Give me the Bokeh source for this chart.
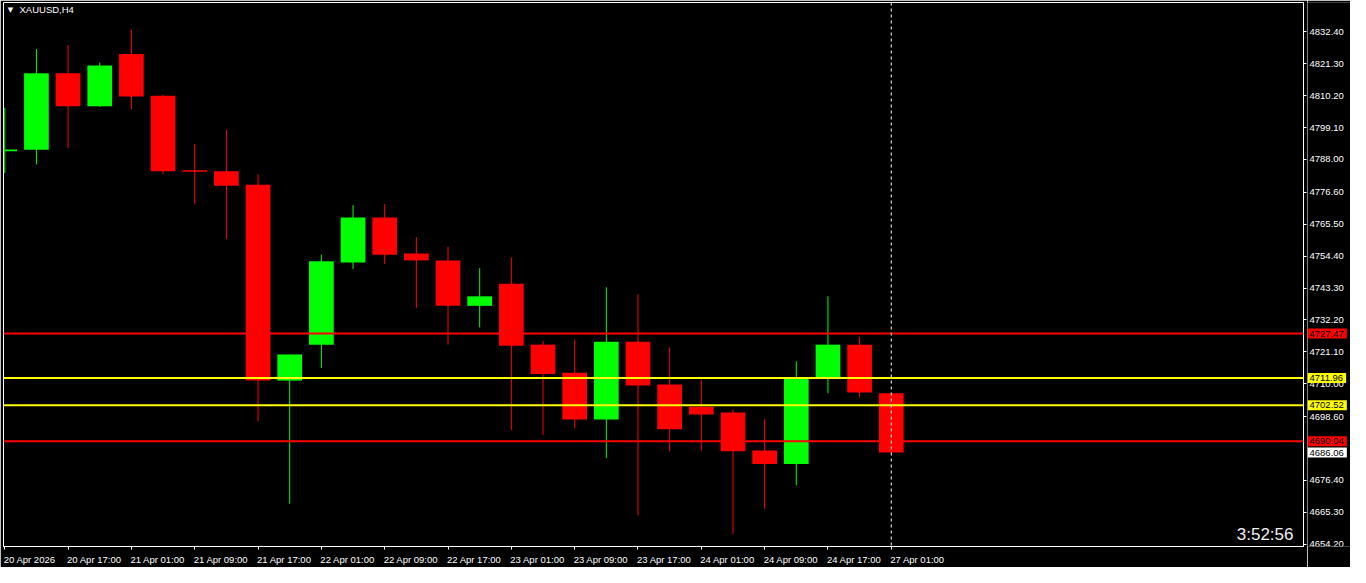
import numpy as np
from bokeh.plotting import figure
from bokeh.layouts import row
from bokeh.models import (ColumnDataSource, Range1d, LinearAxis, FixedTicker,
                          CustomJSTickFormatter, Span, Label, LabelSet)
from bokeh.core.properties import value
from bokeh.embed import file_html
from bokeh.resources import INLINE

# ---------------- data ----------------
symbol = "XAUUSD,H4"
timer_text = "3:52:56"

times = ["20 Apr 09:00", "20 Apr 13:00", "20 Apr 17:00", "20 Apr 21:00",
         "21 Apr 01:00", "21 Apr 05:00", "21 Apr 09:00", "21 Apr 13:00", "21 Apr 17:00", "21 Apr 21:00",
         "22 Apr 01:00", "22 Apr 05:00", "22 Apr 09:00", "22 Apr 13:00", "22 Apr 17:00", "22 Apr 21:00",
         "23 Apr 01:00", "23 Apr 05:00", "23 Apr 09:00", "23 Apr 13:00", "23 Apr 17:00", "23 Apr 21:00",
         "24 Apr 01:00", "24 Apr 05:00", "24 Apr 09:00", "24 Apr 13:00", "24 Apr 17:00", "24 Apr 21:00",
         "27 Apr 01:00"]

opens = [4790.9, 4791.4, 4818.0, 4806.5, 4824.7, 4810.2, 4784.3, 4783.9, 4779.2, 4711.1,
         4723.6, 4752.2, 4767.8, 4755.3, 4752.9, 4737.1, 4744.8, 4723.6, 4713.8, 4697.6,
         4724.6, 4709.7, 4702.0, 4700.0, 4686.8, 4682.1, 4711.8, 4723.6, 4706.7]
highs = [4805.9, 4826.4, 4827.8, 4821.7, 4833.2, 4810.6, 4793.4, 4798.4, 4782.9, 4720.2,
         4754.9, 4772.1, 4772.5, 4761.0, 4757.6, 4750.2, 4753.9, 4724.9, 4725.3, 4743.5,
         4741.1, 4722.6, 4711.4, 4701.0, 4697.6, 4717.8, 4740.4, 4726.3, 4706.7]
lows = [4783.3, 4786.3, 4792.0, 4806.3, 4805.5, 4782.9, 4772.5, 4760.3, 4696.9, 4668.3,
        4715.5, 4749.9, 4751.6, 4736.4, 4723.6, 4729.6, 4693.9, 4692.2, 4694.6, 4684.1,
        4664.2, 4686.5, 4686.8, 4657.8, 4666.6, 4674.7, 4706.7, 4705.4, 4686.06]
closes = [4791.5, 4818.0, 4806.5, 4820.7, 4809.9, 4783.9, 4783.7, 4778.9, 4711.1, 4720.2,
          4752.6, 4767.8, 4754.9, 4752.9, 4737.1, 4740.4, 4723.2, 4713.4, 4697.6, 4724.6,
          4709.4, 4694.2, 4699.3, 4686.5, 4682.1, 4712.1, 4723.6, 4707.0, 4686.06]

x_tick_labels = ["20 Apr 2026", "20 Apr 17:00", "21 Apr 01:00", "21 Apr 09:00", "21 Apr 17:00",
                 "22 Apr 01:00", "22 Apr 09:00", "22 Apr 17:00", "23 Apr 01:00", "23 Apr 09:00",
                 "23 Apr 17:00", "24 Apr 01:00", "24 Apr 09:00", "24 Apr 17:00", "27 Apr 01:00"]

y_ticks = [4832.40, 4821.30, 4810.20, 4799.10, 4788.00, 4776.60, 4765.50, 4754.40, 4743.30,
           4732.20, 4721.10, 4710.00, 4698.60, 4676.40, 4665.30, 4654.20]

levels = [4727.47, 4711.96, 4702.52, 4690.04]
level_colors = ["#ff0000", "#ffff00", "#ffff00", "#ff0000"]

# ---------------- layout ----------------
FONT = "Liberation Sans"
FS = 9.5
H = 567
BL, BT, BB = 3, 2, 19
BR = 4                      # right axis tick marks
STRIP = 43                  # price label strip
FW = 1350 - BL - BR - STRIP
FH = H - BT - BB
XR = (-0.04, 41.02)
px_per_bar = FW / (XR[1] - XR[0])

idx = np.arange(len(times))
o = np.array(opens); c = np.array(closes)
colors = np.where(c >= o, "#00ff00", "#ff0000")

src = ColumnDataSource(dict(x=idx, high=highs, low=lows,
                            top=np.maximum(o, c), bottom=np.minimum(o, c),
                            color=colors, time=times))

p = figure(width=BL + FW + BR, height=H, output_backend="svg", toolbar_location=None,
           x_range=Range1d(*XR), y_range=Range1d(4653.4, 4842.6),
           x_axis_location=None, y_axis_location=None,
           background_fill_color="black", border_fill_color="black",
           min_border_left=BL, min_border_right=BR, min_border_top=BT, min_border_bottom=BB)
p.grid.visible = False
p.outline_line_color = "white"
p.outline_line_width = 1

# right axis: tick marks (labels are in the strip beside it)
yaxis = LinearAxis(ticker=FixedTicker(ticks=y_ticks), formatter=CustomJSTickFormatter(code="return ''"),
                   major_tick_out=3, major_tick_in=0, minor_tick_out=0, minor_tick_in=0,
                   axis_line_color="white", major_tick_line_color="white",
                   major_label_standoff=0, major_label_text_font_size="1px")
p.add_layout(yaxis, "right")

# bottom time axis: minor ticks mark the bars, labels start at the tick (MT4 style)
ARIAL = {"0": 556, "1": 556, "2": 556, "3": 556, "4": 556, "5": 556, "6": 556, "7": 556,
         "8": 556, "9": 556, " ": 278, ":": 278, "A": 667, "p": 556, "r": 333}
tick_idx = list(range(0, len(times), 2))
label_pos = [t + (sum(ARIAL.get(ch, 556) for ch in lab) * FS / 1000 / 2 - 1) / px_per_bar
             for t, lab in zip(tick_idx, x_tick_labels)]
xaxis = LinearAxis(ticker=FixedTicker(ticks=label_pos, minor_ticks=tick_idx),
                   formatter=CustomJSTickFormatter(args=dict(labels=x_tick_labels),
                                                   code="return labels[index]"),
                   major_tick_out=0, major_tick_in=0, major_tick_line_color=None,
                   minor_tick_out=3, minor_tick_in=0, minor_tick_line_color="white",
                   axis_line_color="white", major_label_standoff=4,
                   major_label_text_color="white", major_label_text_font=FONT,
                   major_label_text_font_size=f"{FS}px")
p.add_layout(xaxis, "below")

# levels
for lv, col in zip(levels, level_colors):
    p.add_layout(Span(location=lv, dimension="width", line_color=col, line_width=2))

# current bar marker
p.add_layout(Span(location=idx[-1], dimension="height", line_color="white",
                  line_dash="3 3", line_width=1))

# candles
p.segment(x0="x", y0="low", x1="x", y1="high", line_color="color", line_width=1, source=src)
p.vbar(x="x", width=0.78, top="top", bottom="bottom", fill_color="color",
       line_color=None, source=src)

# symbol title
p.add_layout(Label(x=7, y=FH - 9, x_units="screen", y_units="screen", text="\u25bc",
                   text_align="center", text_baseline="middle", text_color="white",
                   text_font="DejaVu Sans", text_font_size="7px"))
p.add_layout(Label(x=16, y=FH - 9, x_units="screen", y_units="screen", text=symbol,
                   text_align="left", text_baseline="middle", text_color="white",
                   text_font=FONT, text_font_size=f"{FS}px"))

# timer
p.add_layout(Label(x=FW - 10, y=12, x_units="screen", y_units="screen", text=timer_text,
                   text_align="right", text_baseline="alphabetic", text_color="#f0f0f0",
                   text_font=FONT, text_font_size="17px"))

# ---------------- price strip ----------------
pa = figure(width=STRIP, height=H, output_backend="svg", toolbar_location=None,
            x_range=Range1d(0, STRIP), y_range=p.y_range,
            x_axis_location=None, y_axis_location=None,
            background_fill_color="black", border_fill_color="black",
            min_border_left=0, min_border_right=0, min_border_top=BT, min_border_bottom=BB)
pa.grid.visible = False
pa.outline_line_color = None

tick_src = ColumnDataSource(dict(y=y_ticks, text=[f"{t:.2f}" for t in y_ticks],
                                 x=[2] * len(y_ticks)))
pa.add_layout(LabelSet(x="x", y="y", text="text", source=tick_src,
                       text_align="left", text_baseline="middle", text_color="white",
                       text_font=value(FONT), text_font_size=f"{FS}px"))

for lv, col in zip(levels + [closes[-1]], level_colors + ["#ffffff"]):
    pa.add_layout(Label(x=0, y=lv, x_units="data", y_units="data", text=f"{lv:.2f}",
                        text_align="left", text_baseline="middle", text_color="black",
                        text_font=FONT, text_font_size=f"{FS}px",
                        background_fill_color=col,
                        padding=dict(left=2, right=3, top=2, bottom=2)))

layout = row(p, pa, spacing=0)
open("out.html", "w").write(file_html(layout, INLINE))
